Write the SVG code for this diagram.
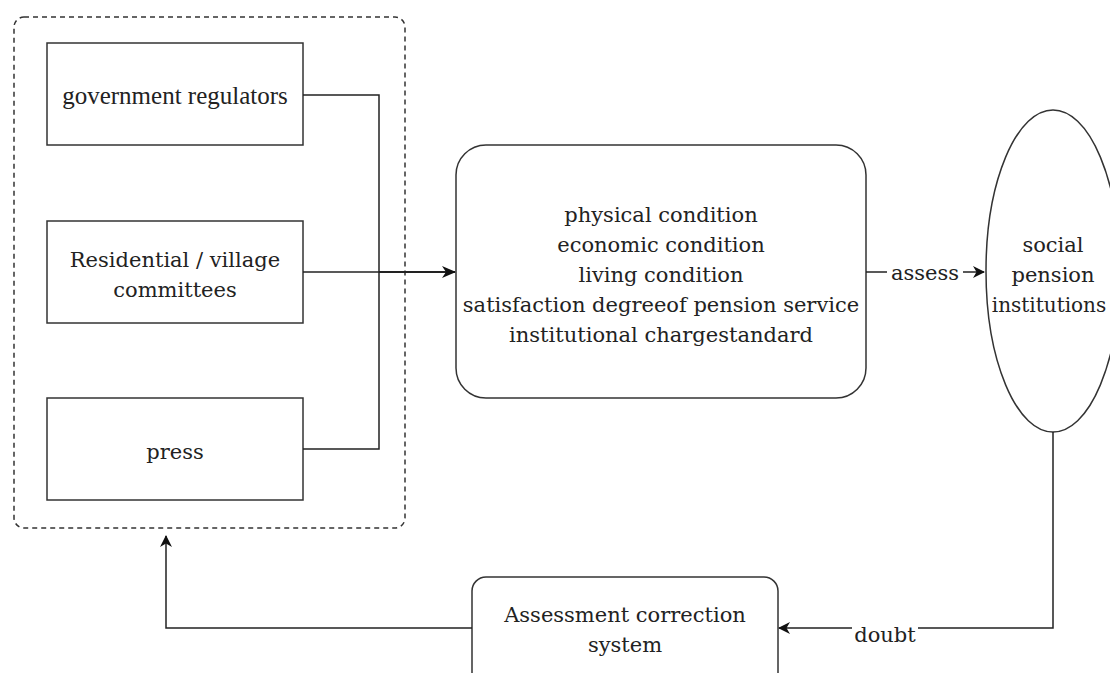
<svg xmlns="http://www.w3.org/2000/svg" width="1110" height="673" viewBox="0 0 1110 673">
<defs>
<style>
.box{fill:#fff;stroke:#333;stroke-width:1.5}
.ln{fill:none;stroke:#222;stroke-width:1.5}
.t{font-family:"DejaVu Serif","Liberation Serif",serif;font-size:21px;fill:#222;text-anchor:middle}
.tt{font-family:"Liberation Serif",serif;font-size:25px;fill:#222;text-anchor:middle}
.lbl{font-family:"DejaVu Serif","Liberation Serif",serif;font-size:21px;fill:#222;text-anchor:middle}
</style>
<marker id="arr" viewBox="0 0 12 12" refX="11" refY="6" markerWidth="12" markerHeight="12" markerUnits="userSpaceOnUse" orient="auto">
<path d="M0,0 L12,6 L0,12 L3.5,6 Z" fill="#111"/>
</marker>
<marker id="arr2" viewBox="0 0 14 12" refX="13" refY="6" markerWidth="14" markerHeight="12" markerUnits="userSpaceOnUse" orient="auto">
<path d="M0,0 L14,6 L0,12 L4,6 Z" fill="#111"/>
</marker>
</defs>
<rect id="group" x="14" y="17" width="391" height="511" rx="10" fill="none" stroke="#333" stroke-width="1.5" stroke-dasharray="5,4"/>
<g id="gov"><rect class="box" x="47" y="43" width="256" height="102"/><text class="tt" x="175" y="104">government regulators</text></g>
<g id="res"><rect class="box" x="47" y="221" width="256" height="102"/><text class="t" x="175" y="267">Residential / village</text><text class="t" x="175" y="297">committees</text></g>
<g id="press"><rect class="box" x="47" y="398" width="256" height="102"/><text class="t" x="175" y="459">press</text></g>
<g id="cond"><rect class="box" x="456" y="145" width="410" height="253" rx="30"/>
<text class="t" x="661" y="222">physical condition</text>
<text class="t" x="661" y="252">economic condition</text>
<text class="t" x="661" y="282">living condition</text>
<text class="t" x="661" y="312">satisfaction degreeof pension service</text>
<text class="t" x="661" y="342">institutional chargestandard</text></g>
<g id="inst"><ellipse class="box" cx="1053" cy="271" rx="67" ry="161"/>
<text class="t" x="1053" y="252">social</text><text class="t" x="1053" y="282">pension</text><text class="t" x="1049" y="312" style="font-size:20px">institutions</text></g>
<g id="corr"><rect class="box" x="472" y="577" width="306" height="110" rx="14"/>
<text class="t" x="625" y="622">Assessment correction</text><text class="t" x="625" y="652">system</text></g>
<g id="connectors">
<path class="ln" d="M303,95 H379 V449 H303"/>
<path class="ln" d="M303,272 H379"/>
<path class="ln" d="M379,272 H455" style="stroke-width:2.2" marker-end="url(#arr2)"/>
<path class="ln" d="M866,272 H984" marker-end="url(#arr)"/>
<rect x="887" y="262" width="76" height="20" fill="#fff"/>
<text class="lbl" x="925" y="280">assess</text>
<path class="ln" d="M1053,432 V628 H779" marker-end="url(#arr)"/>
<rect x="852" y="618" width="66" height="20" fill="#fff"/>
<text class="lbl" x="885" y="642">doubt</text>
<path class="ln" d="M472,628 H166 V536" marker-end="url(#arr)"/>
</g>
</svg>
